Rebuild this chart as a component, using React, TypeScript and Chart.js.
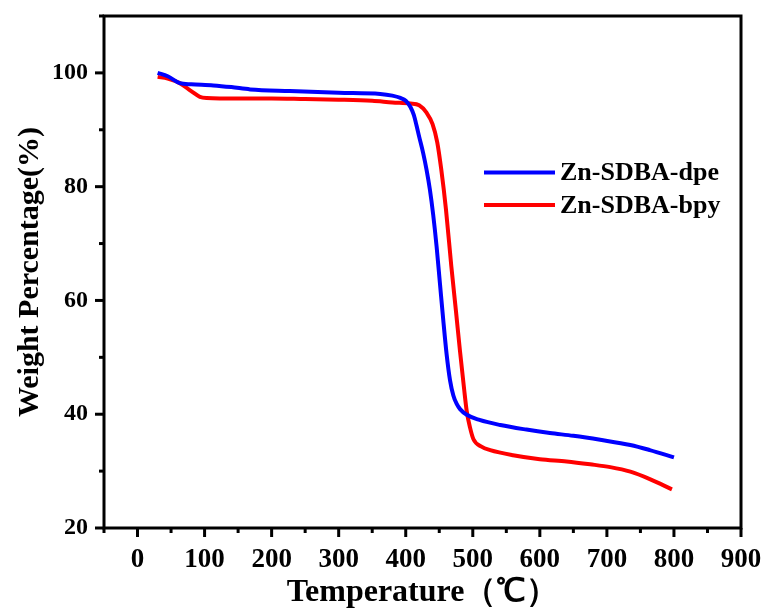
import React, { useEffect, useRef } from "react";
import { Chart, registerables } from "chart.js";

Chart.register(...registerables);

const dpeTemp = [30, 45, 63, 80, 113, 140, 168, 227, 300, 362, 380, 392, 400, 407, 412, 416, 420, 426, 431, 436, 441, 446, 451, 456, 461, 466, 471, 476, 481, 491, 510, 541, 580, 615, 650, 690, 735, 764, 800];
const dpeWeight = [100, 99.4, 98.2, 98.0, 97.8, 97.5, 97.1, 96.8, 96.5, 96.3, 96.0, 95.6, 95.1, 94.0, 92.6, 90.8, 88.8, 85.9, 83.0, 79.5, 75.0, 69.5, 63.0, 56.5, 50.5, 46.0, 43.3, 41.8, 40.9, 39.9, 39.0, 38.1, 37.3, 36.7, 36.2, 35.5, 34.6, 33.7, 32.4];

const bpyTemp = [30, 45, 63, 80, 93, 103, 150, 200, 250, 300, 350, 380, 407, 420, 431, 440, 447, 453, 460, 468, 475, 481, 487, 491, 496, 501, 513, 526, 560, 600, 640, 675, 705, 735, 764, 797];
const bpyWeight = [99.3, 99.0, 98.2, 96.8, 95.8, 95.6, 95.5, 95.5, 95.4, 95.3, 95.1, 94.8, 94.6, 94.3, 93.0, 91.0, 87.8, 83.0, 76.0, 66.0, 58.0, 51.0, 44.5, 40.5, 37.6, 35.6, 34.3, 33.7, 32.8, 32.1, 31.7, 31.2, 30.7, 29.9, 28.6, 26.8];

const xTickValues = [0, 100, 200, 300, 400, 500, 600, 700, 800, 900];
const yTickValues = [20, 40, 60, 80, 100];

const seriesNames = ["Zn-SDBA-dpe", "Zn-SDBA-bpy"];
const seriesColors = ["#0000ff", "#ff0000"];

const FONT = "'Liberation Serif', 'Times New Roman', serif";

const framePlugin = {
  id: "frameTicks",
  afterDraw(chart: any) {
    const { ctx, chartArea, scales } = chart;
    const x = scales.x;
    const y = scales.y;
    ctx.save();
    ctx.strokeStyle = "#000";
    ctx.lineWidth = 3;
    ctx.strokeRect(chartArea.left, chartArea.top, chartArea.right - chartArea.left, chartArea.bottom - chartArea.top);
    for (let v = x.min; v <= x.max + 0.01; v += 50) {
      const px = x.getPixelForValue(v);
      const len = Math.abs(v % 100) < 0.01 ? 9 : 5;
      ctx.beginPath();
      ctx.moveTo(px, chartArea.bottom);
      ctx.lineTo(px, chartArea.bottom + len);
      ctx.stroke();
    }
    for (let v = y.min; v <= y.max + 0.01; v += 10) {
      const py = y.getPixelForValue(v);
      const len = Math.abs(v % 20) < 0.01 ? 9 : 5;
      ctx.beginPath();
      ctx.moveTo(chartArea.left, py);
      ctx.lineTo(chartArea.left - len, py);
      ctx.stroke();
    }
    // legend
    ctx.font = `bold 26px ${FONT}`;
    ctx.textBaseline = "middle";
    ctx.textAlign = "left";
    const rows = [172.5, 205];
    seriesNames.forEach((name, i) => {
      ctx.strokeStyle = seriesColors[i];
      ctx.lineWidth = 4;
      ctx.beginPath();
      ctx.moveTo(484, rows[i]);
      ctx.lineTo(555, rows[i]);
      ctx.stroke();
      ctx.fillStyle = "#000";
      ctx.fillText(name, 560, rows[i] + 1);
    });
    ctx.restore();
  },
};

export default function App() {
  const ref = useRef<HTMLCanvasElement | null>(null);
  useEffect(() => {
    if (!ref.current) return;
    const chart = new Chart(ref.current, {
      type: "line",
      data: {
        datasets: [
          {
            label: seriesNames[0],
            data: dpeTemp.map((t, i) => ({ x: t, y: dpeWeight[i] })),
            borderColor: seriesColors[0],
            backgroundColor: seriesColors[0],
            borderWidth: 4,
            pointRadius: 0,
            cubicInterpolationMode: "monotone",
          },
          {
            label: seriesNames[1],
            data: bpyTemp.map((t, i) => ({ x: t, y: bpyWeight[i] })),
            borderColor: seriesColors[1],
            backgroundColor: seriesColors[1],
            borderWidth: 4,
            pointRadius: 0,
            cubicInterpolationMode: "monotone",
          },
        ],
      },
      options: {
        responsive: false,
        animation: false,
        layout: { padding: { top: 16, right: 28, left: 0, bottom: 0 } },
        plugins: { legend: { display: false }, tooltip: { enabled: false } },
        scales: {
          x: {
            type: "linear",
            min: -50,
            max: 900,
            afterBuildTicks: (s: any) => {
              s.ticks = xTickValues.map((v) => ({ value: v }));
            },
            afterFit: (s: any) => {
              s.height = 84;
              s.paddingLeft = 0;
              s.paddingRight = 0;
            },
            grid: { display: false, drawTicks: false },
            border: { display: false },
            ticks: { color: "#000", font: { family: FONT, size: 27, weight: "bold" }, padding: 16, maxRotation: 0, autoSkip: false },
            title: { display: true, text: "Temperature（℃）", color: "#000", font: { family: FONT, size: 32, weight: "bold" }, padding: 0 },
          },
          y: {
            type: "linear",
            min: 20,
            max: 110,
            afterBuildTicks: (s: any) => {
              s.ticks = yTickValues.map((v) => ({ value: v }));
            },
            afterFit: (s: any) => {
              s.width = 104;
              s.paddingTop = 0;
              s.paddingBottom = 0;
            },
            grid: { display: false, drawTicks: false },
            border: { display: false },
            ticks: { color: "#000", font: { family: FONT, size: 24, weight: "bold" }, padding: 16 },
            title: { display: true, text: "Weight Percentage(%)", color: "#000", font: { family: FONT, size: 30, weight: "bold" }, padding: { top: 12, bottom: 0 } },
          },
        },
      },
      plugins: [framePlugin],
    });
    return () => chart.destroy();
  }, []);
  return (
    <div style={{ position: "absolute", left: 0, top: 0, width: 769, height: 612, background: "#fff" }}>
      <canvas ref={ref} width={769} height={612} style={{ display: "block" }} />
    </div>
  );
}
